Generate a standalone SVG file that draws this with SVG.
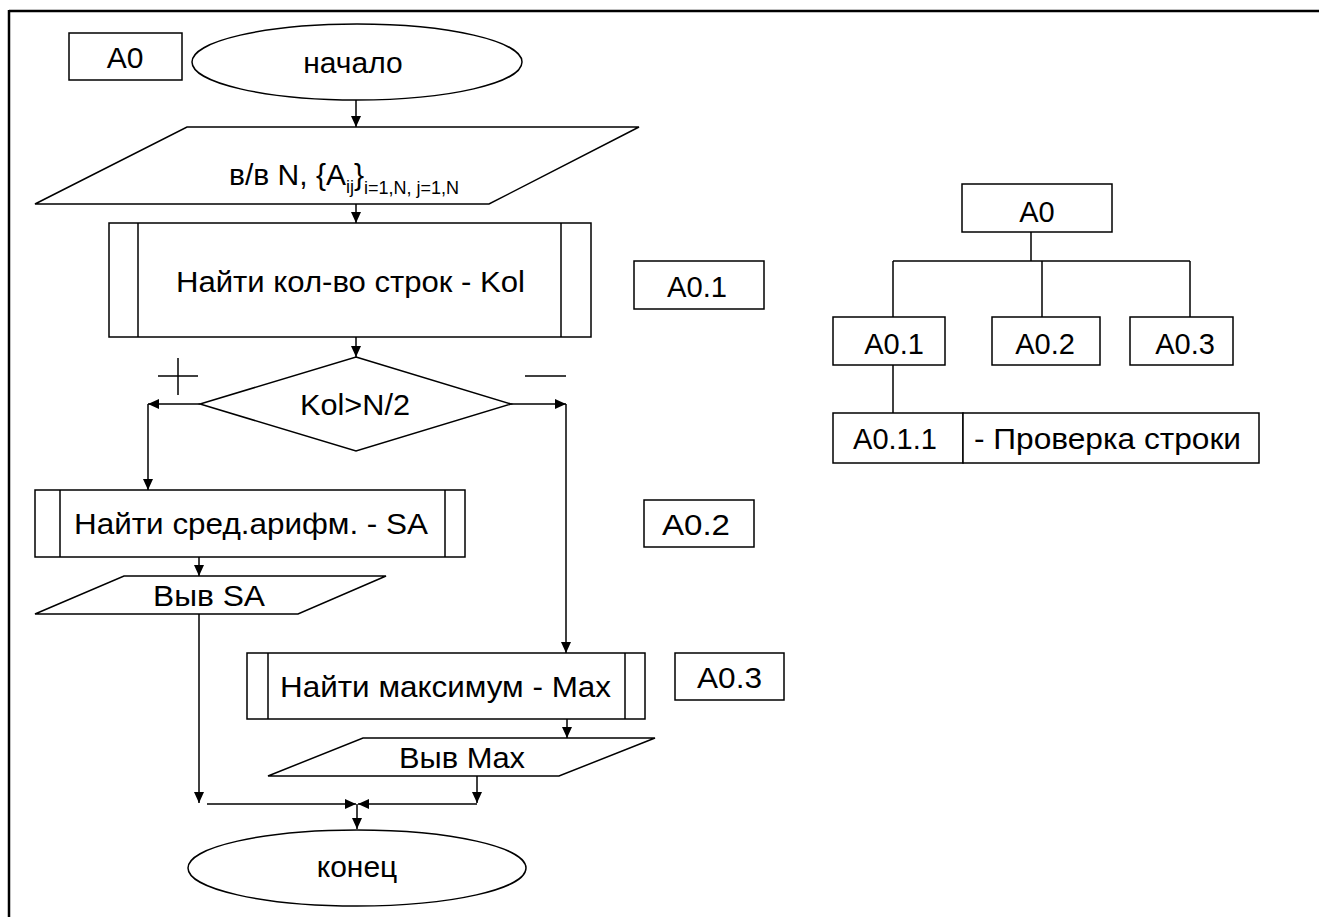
<svg xmlns="http://www.w3.org/2000/svg" width="1319" height="917" viewBox="0 0 1319 917">
<style>
.s{fill:#fff;stroke:#000;stroke-width:1.5}
.l{fill:none;stroke:#000;stroke-width:1.5}
.n{font-family:"Liberation Sans Narrow","Liberation Sans",Arial,sans-serif;font-size:30px;fill:#000}
.t{font-family:"Liberation Sans",Arial,sans-serif;font-size:29px;fill:#000}
.sub{font-size:18px}
</style>
<defs>
<marker id="ah" markerUnits="userSpaceOnUse" markerWidth="12" markerHeight="10" refX="11" refY="5" orient="auto">
<path d="M0,0 L11,5 L0,10 Z" fill="#000"/>
</marker>
</defs>
<rect width="1319" height="917" fill="#fff"/>
<g id="frame">
<line x1="9" y1="11" x2="1319" y2="11" stroke="#000" stroke-width="2.5"/>
<line x1="9" y1="10" x2="9" y2="917" stroke="#000" stroke-width="2.5"/>
</g>
<g id="lbl-A0"><rect class="s" x="69" y="33" width="113" height="47"/><text class="n" x="125" y="68" text-anchor="middle">A0</text></g>
<g id="start"><ellipse class="s" cx="357" cy="62" rx="165" ry="38"/><text class="n" x="353" y="73" text-anchor="middle">начало</text></g>
<g id="input"><polygon class="s" points="187,127 639,127 489,204 35,204"/>
<text class="n" x="229" y="185">в/в N, {A<tspan class="sub" dy="8">ij</tspan><tspan dy="-8">}</tspan><tspan class="sub" dy="9">i=1,N, j=1,N</tspan></text></g>
<g id="kol"><rect class="s" x="109" y="223" width="482" height="114"/><line class="l" x1="138" y1="223" x2="138" y2="337"/><line class="l" x1="561" y1="223" x2="561" y2="337"/>
<text class="n" x="176" y="292" textLength="349" lengthAdjust="spacingAndGlyphs">Найти кол-во строк - Kol</text></g>
<g id="lbl-A01"><rect class="s" x="634" y="261" width="130" height="48"/><text class="t" x="667" y="297" textLength="60" lengthAdjust="spacingAndGlyphs">A0.1</text></g>
<g id="cond"><polygon class="s" points="356,357 511,404 356,451 200,404"/>
<text class="n" x="300" y="415" textLength="110" lengthAdjust="spacingAndGlyphs">Kol&gt;N/2</text>
<line class="l" x1="158" y1="376" x2="198" y2="376"/><line class="l" x1="178" y1="358" x2="178" y2="395"/>
<line class="l" x1="525" y1="376" x2="566" y2="376"/></g>
<g id="sa"><rect class="s" x="35" y="490" width="430" height="67"/><line class="l" x1="60" y1="490" x2="60" y2="557"/><line class="l" x1="445" y1="490" x2="445" y2="557"/>
<text class="n" x="74" y="534" textLength="354" lengthAdjust="spacingAndGlyphs">Найти сред.арифм. - SA</text></g>
<g id="lbl-A02"><rect class="s" x="644" y="500" width="110" height="47"/><text class="t" x="662" y="535" textLength="68" lengthAdjust="spacingAndGlyphs">A0.2</text></g>
<g id="outSA"><polygon class="s" points="124,576 386,576 298,614 35,614"/><text class="n" x="153" y="606" textLength="112" lengthAdjust="spacingAndGlyphs">Выв SA</text></g>
<g id="max"><rect class="s" x="247" y="653" width="398" height="66"/><line class="l" x1="268" y1="653" x2="268" y2="719"/><line class="l" x1="625" y1="653" x2="625" y2="719"/>
<text class="n" x="280" y="697" textLength="331" lengthAdjust="spacingAndGlyphs">Найти максимум - Max</text></g>
<g id="lbl-A03"><rect class="s" x="675" y="653" width="109" height="47"/><text class="t" x="697" y="688" textLength="65" lengthAdjust="spacingAndGlyphs">A0.3</text></g>
<g id="outMax"><polygon class="s" points="363,738 655,738 559,776 268,776"/><text class="n" x="399" y="768" textLength="126" lengthAdjust="spacingAndGlyphs">Выв Max</text></g>
<g id="end"><ellipse class="s" cx="357" cy="868" rx="169" ry="38"/><text class="n" x="357" y="877" text-anchor="middle">конец</text></g>
<g id="connectors">
<line class="l" x1="356" y1="100" x2="356" y2="127" marker-end="url(#ah)"/>
<line class="l" x1="356" y1="204" x2="356" y2="223" marker-end="url(#ah)"/>
<line class="l" x1="356" y1="337" x2="356" y2="357" marker-end="url(#ah)"/>
<line class="l" x1="200" y1="404" x2="148" y2="404" marker-end="url(#ah)"/>
<line class="l" x1="148" y1="404" x2="148" y2="490" marker-end="url(#ah)"/>
<line class="l" x1="511" y1="404" x2="566" y2="404" marker-end="url(#ah)"/>
<line class="l" x1="566" y1="404" x2="566" y2="653" marker-end="url(#ah)"/>
<line class="l" x1="199" y1="557" x2="199" y2="576" marker-end="url(#ah)"/>
<line class="l" x1="199" y1="614" x2="199" y2="803" marker-end="url(#ah)"/>
<line class="l" x1="567" y1="719" x2="567" y2="738" marker-end="url(#ah)"/>
<line class="l" x1="477" y1="776" x2="477" y2="803" marker-end="url(#ah)"/>
<line class="l" x1="207" y1="804" x2="356" y2="804" marker-end="url(#ah)"/>
<line class="l" x1="477" y1="804" x2="358" y2="804" marker-end="url(#ah)"/>
<line class="l" x1="357" y1="804" x2="357" y2="829" marker-end="url(#ah)"/>
</g>
<g id="tree-links">
<line class="l" x1="1031" y1="232" x2="1031" y2="261"/>
<line class="l" x1="893" y1="261" x2="1190" y2="261"/>
<line class="l" x1="893" y1="261" x2="893" y2="317"/>
<line class="l" x1="1042" y1="261" x2="1042" y2="317"/>
<line class="l" x1="1190" y1="261" x2="1190" y2="317"/>
<line class="l" x1="893" y1="365" x2="893" y2="413"/>
</g>
<g id="tA0"><rect class="s" x="962" y="184" width="150" height="48"/><text class="t" x="1037" y="222" text-anchor="middle">A0</text></g>
<g id="tA01"><rect class="s" x="833" y="317" width="112" height="48"/><text class="t" x="894" y="354" text-anchor="middle">A0.1</text></g>
<g id="tA02"><rect class="s" x="992" y="317" width="108" height="48"/><text class="t" x="1045" y="354" text-anchor="middle">A0.2</text></g>
<g id="tA03"><rect class="s" x="1130" y="317" width="103" height="48"/><text class="t" x="1185" y="354" text-anchor="middle">A0.3</text></g>
<g id="tA011"><rect class="s" x="833" y="413" width="130" height="50"/><text class="t" x="895" y="449" text-anchor="middle">A0.1.1</text>
<rect class="s" x="963" y="413" width="296" height="50"/><text class="t" x="974" y="449" textLength="267" lengthAdjust="spacingAndGlyphs">- Проверка строки</text></g>
</svg>
